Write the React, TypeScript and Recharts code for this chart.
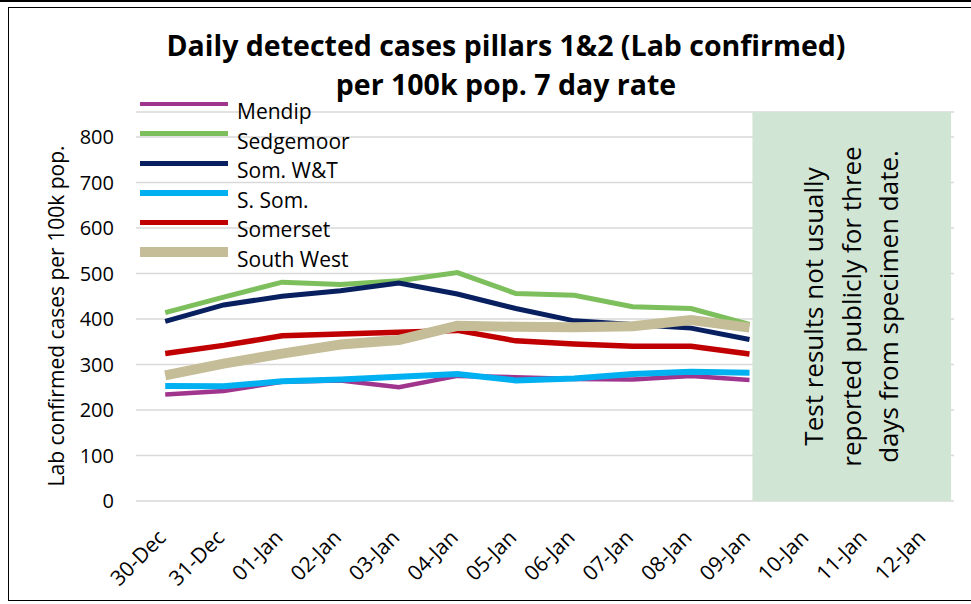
import { LineChart, Line, XAxis, YAxis, CartesianGrid, ReferenceArea, Legend } from 'recharts';

const dates = [
  '30-Dec', '31-Dec', '01-Jan', '02-Jan', '03-Jan', '04-Jan', '05-Jan',
  '06-Jan', '07-Jan', '08-Jan', '09-Jan', '10-Jan', '11-Jan', '12-Jan',
];

// 7 day rate per 100k, 30-Dec .. 09-Jan (later days not yet reported)
const mendip = [234, 242, 262, 265, 250, 275, 272, 268, 267, 275, 266];
const sedgemoor = [414, 448, 481, 476, 484, 502, 456, 452, 427, 423, 388];
const somWT = [395, 431, 450, 462, 479, 455, 423, 396, 388, 380, 355];
const sSom = [253, 252, 263, 267, 273, 279, 265, 269, 279, 284, 282];
const somerset = [324, 342, 363, 367, 371, 375, 352, 345, 340, 340, 323];
const southWest = [276, 302, 324, 344, 354, 385, 383, 382, 384, 398, 381];

const yTicks = [0, 100, 200, 300, 400, 500, 600, 700, 800];
const noteLines = ['Test results not usually', 'reported publicly for three', 'days from specimen date.'];

const series = [
  { key: 'mendip', name: 'Mendip', values: mendip, color: '#A0358E', width: 4.5 },
  { key: 'sedgemoor', name: 'Sedgemoor', values: sedgemoor, color: '#7DBF5C', width: 5 },
  { key: 'somWT', name: 'Som. W&T', values: somWT, color: '#082060', width: 5 },
  { key: 'sSom', name: 'S. Som.', values: sSom, color: '#00B0F0', width: 6 },
  { key: 'somerset', name: 'Somerset', values: somerset, color: '#C00000', width: 5.5 },
  { key: 'southWest', name: 'South West', values: southWest, color: '#C4BD97', width: 10 },
];

const data = dates.map((date, i) => {
  const row: Record<string, number | string | undefined> = { i, date };
  series.forEach((s) => {
    row[s.key] = s.values[i];
  });
  return row;
});

const dayTicks = dates.map((_, i) => i);
const edgeTicks = [...dates.map((_, i) => i - 0.5), dates.length - 0.5];

const FONT = '"Open Sans", sans-serif';

const DateTick = ({ x, y, payload }: any) => (
  <g transform={`translate(${x + 2},${y + 38})`}>
    <text textAnchor="end" transform="rotate(-45)" fontSize={21} fill="#000" fontFamily={FONT}>
      {dates[payload.value]}
    </text>
  </g>
);

const NoteLabel = ({ viewBox }: any) => {
  const cx = viewBox.x + viewBox.width / 2;
  const cy = viewBox.y + viewBox.height / 2;
  return (
    <text
      transform={`translate(${cx},${cy}) rotate(-90)`}
      textAnchor="middle"
      fontSize={26}
      fill="#000"
      fontFamily={FONT}
    >
      {noteLines.map((t, k) => (
        <tspan key={k} x={0} y={(k - 1) * 37.5 + 9}>
          {t}
        </tspan>
      ))}
    </text>
  );
};

// legend keeps the series order (recharts would sort it by name)
const LegendList = () => (
  <div style={{ fontFamily: FONT, fontSize: 21, color: '#000' }}>
    {series.map((s) => (
      <div key={s.key} style={{ position: 'relative', height: 29.6, whiteSpace: 'nowrap' }}>
        <div
          style={{
            position: 'absolute',
            left: 0,
            top: 7 - s.width / 2,
            width: 88,
            height: s.width,
            background: s.color,
          }}
        />
        <span style={{ position: 'absolute', left: 97, top: 0, lineHeight: '29px' }}>{s.name}</span>
      </div>
    ))}
  </div>
);

const App = () => {
  return (
    <div
      style={{
        position: 'absolute',
        left: 0,
        top: 0,
        width: 971,
        height: 604,
        overflow: 'hidden',
        background: '#fff',
        fontFamily: FONT,
      }}
    >
      <div style={{ position: 'absolute', left: 0, top: 0, width: 971, height: 1.5, background: '#000' }} />
      <div
        style={{
          position: 'absolute',
          left: 8,
          top: 7,
          width: 990,
          height: 592,
          border: '1.5px solid #000',
        }}
      />
      <div
        style={{
          position: 'absolute',
          left: 40,
          top: 26,
          width: 932,
          textAlign: 'center',
          fontWeight: 700,
          fontSize: 28.5,
          lineHeight: '39px',
          color: '#000',
        }}
      >
        Daily detected cases pillars 1&amp;2 (Lab confirmed)
        <br />
        per 100k pop. 7 day rate
      </div>
      <div style={{ position: 'absolute', left: 0, top: 0 }}>
        <LineChart width={971} height={604} data={data} margin={{ top: 112, right: 17, left: 40, bottom: 3 }}>
          <CartesianGrid xAxisId="lab" vertical={false} stroke="#D9D9D9" strokeWidth={1.3} />
          <XAxis
            xAxisId="marks"
            dataKey="i"
            type="number"
            domain={[-0.5, dates.length - 0.5]}
            ticks={edgeTicks}
            interval={0}
            tick={false}
            tickSize={6}
            height={0}
            axisLine={{ stroke: '#D9D9D9', strokeWidth: 1.3 }}
            tickLine={{ stroke: '#D9D9D9', strokeWidth: 1.3 }}
          />
          <XAxis
            xAxisId="lab"
            dataKey="i"
            type="number"
            domain={[-0.5, dates.length - 0.5]}
            ticks={dayTicks}
            interval={0}
            tick={<DateTick />}
            tickSize={0}
            tickMargin={0}
            height={100}
            axisLine={false}
            tickLine={false}
          />
          <YAxis
            domain={[0, 855]}
            ticks={yTicks}
            interval={0}
            width={96}
            axisLine={false}
            tickLine={false}
            tickSize={0}
            tickMargin={22}
            tick={{ fontSize: 20, fill: '#000', fontFamily: FONT }}
            label={{
              value: 'Lab confirmed cases per 100k pop.',
              angle: -90,
              position: 'insideLeft',
              offset: 17,
              dy: 180,
              style: { fontSize: 21, fill: '#000', fontFamily: FONT },
            }}
          />
          <ReferenceArea
            xAxisId="lab"
            x1={10.05}
            x2={13.45}
            y1={0}
            y2={855}
            fill="#D1E5D5"
            fillOpacity={1}
            stroke="none"
            label={<NoteLabel />}
          />
          <Legend
            layout="vertical"
            align="center"
            verticalAlign="middle"
            wrapperStyle={{ top: 97, left: 140, width: 260 }}
            content={<LegendList />}
          />
          {series.map((s) => (
            <Line
              key={s.key}
              xAxisId="lab"
              dataKey={s.key}
              name={s.name}
              stroke={s.color}
              strokeWidth={s.width}
              dot={false}
              activeDot={false}
              type="linear"
              isAnimationActive={false}
            />
          ))}
        </LineChart>
      </div>
    </div>
  );
};

export default App;
